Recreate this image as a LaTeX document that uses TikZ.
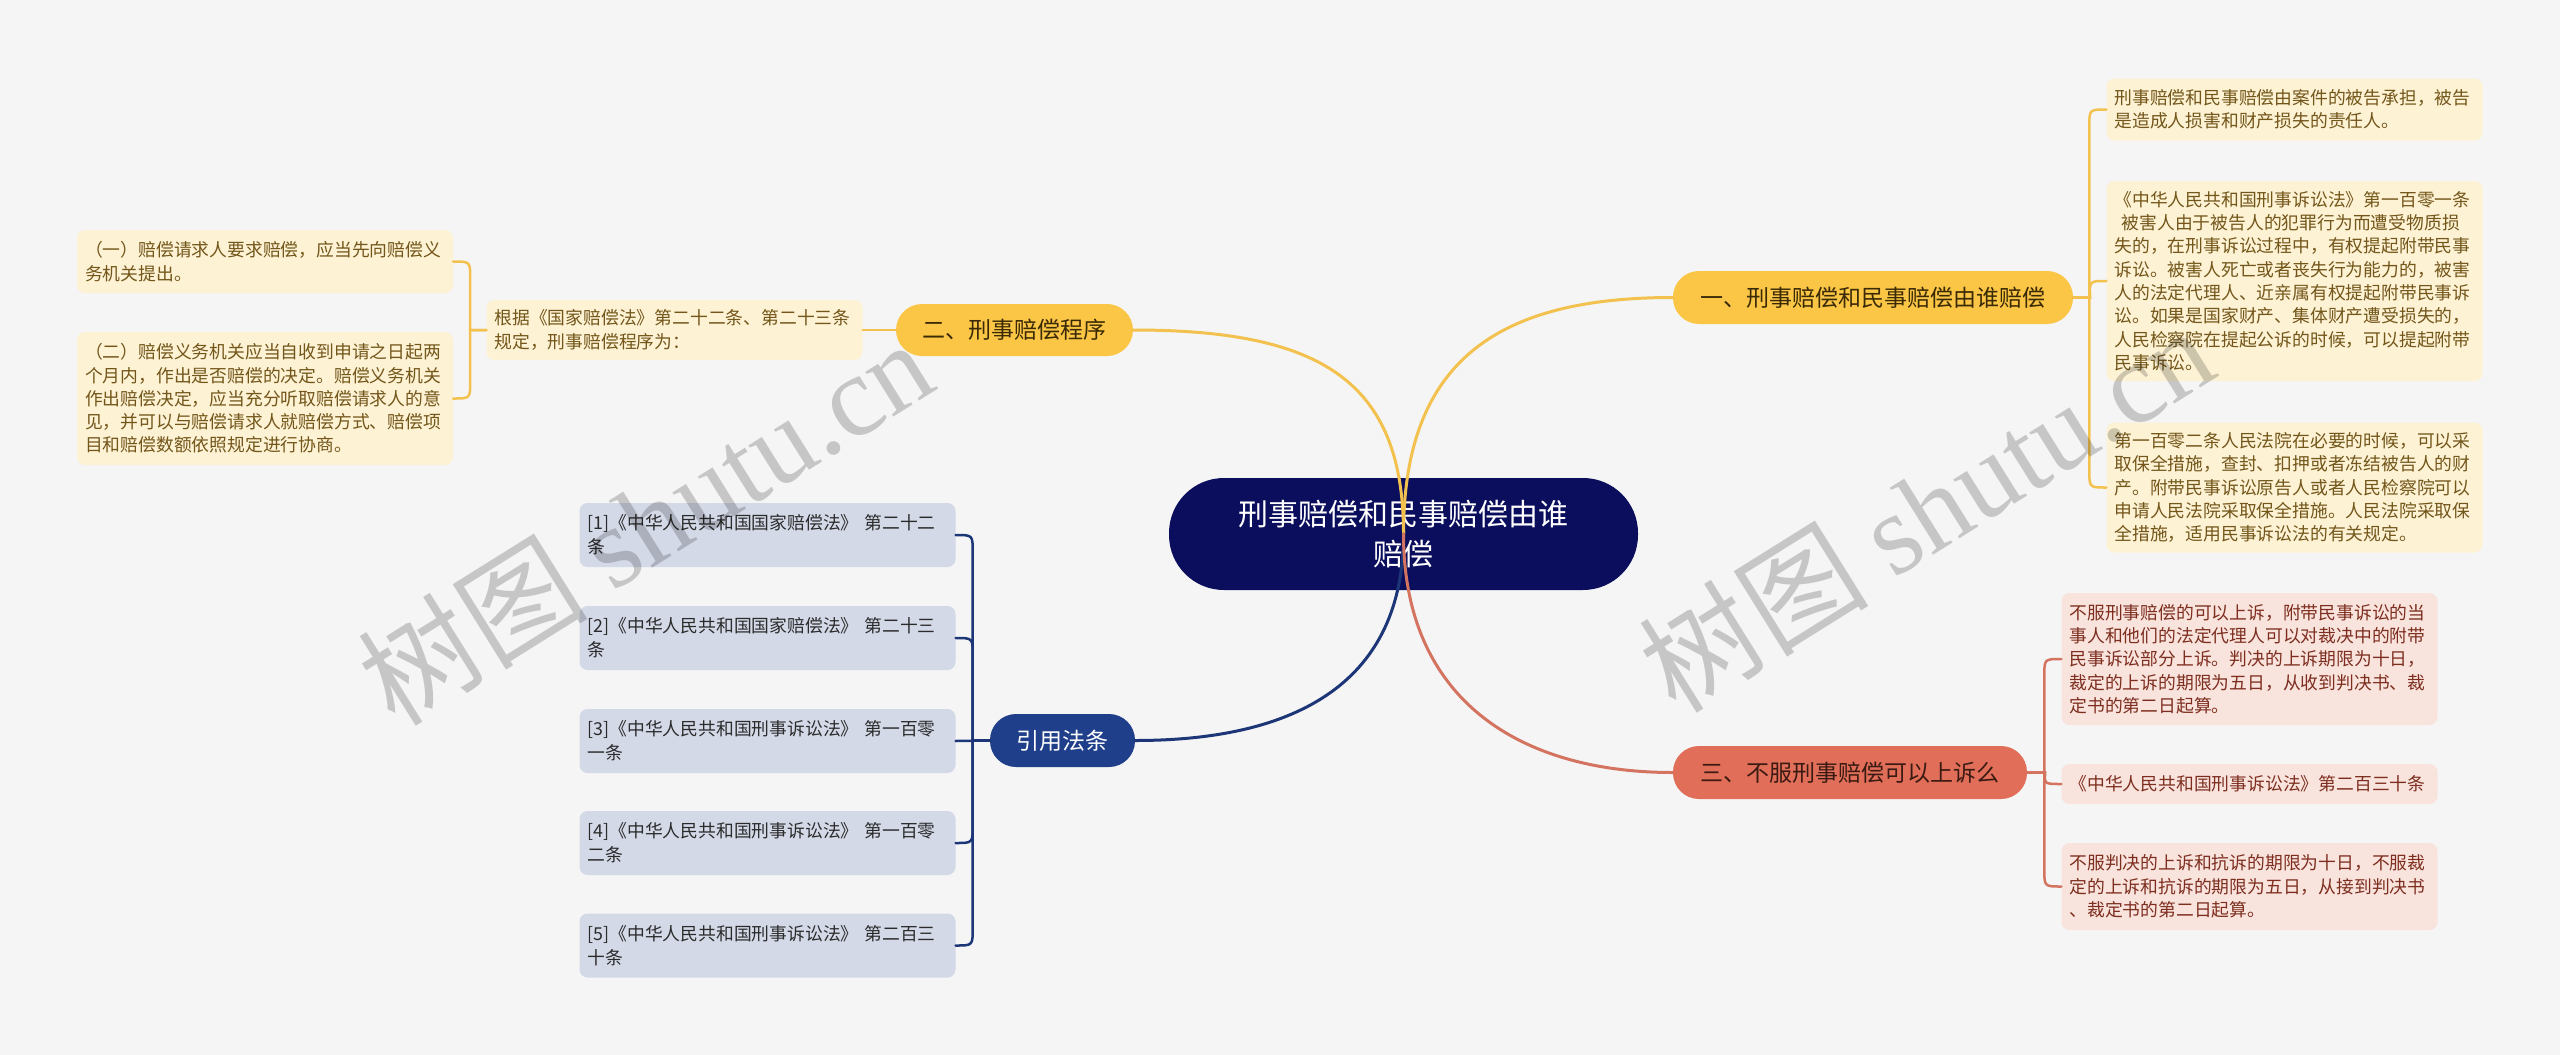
\documentclass[tikz,border=0pt]{standalone}
\usepackage{fontspec}
\setmainfont{Noto Sans CJK SC}
\newfontfamily\wmserif{Liberation Serif}
\usetikzlibrary{calc}
\definecolor{bgc}{HTML}{F5F5F5}
\definecolor{rootc}{HTML}{0A0E5C}
\definecolor{ynodec}{HTML}{FBC646}
\definecolor{ytext}{HTML}{3A2A05}
\definecolor{yleafc}{HTML}{FDF2D4}
\definecolor{yleaft}{HTML}{73561A}
\definecolor{ylinec}{HTML}{F2C14E}
\definecolor{rnodec}{HTML}{E06E58}
\definecolor{rtext}{HTML}{3A1A12}
\definecolor{rleafc}{HTML}{F9E3DD}
\definecolor{rleaft}{HTML}{7D2E1F}
\definecolor{rlinec}{HTML}{D47460}
\definecolor{bnodec}{HTML}{1F3F8A}
\definecolor{bleafc}{HTML}{D4D9E8}
\definecolor{bleaft}{HTML}{2B2B2B}
\definecolor{blinec}{HTML}{1C3677}
\tikzset{
  leafbase/.style={rounded corners=8pt, inner xsep=8pt, inner ysep=0pt, align=left,
    text width=360pt, font=\fontsize{17.8pt}{23.3pt}\selectfont},
  yleaf/.style={leafbase, fill=yleafc, text=yleaft},
  rleaf/.style={leafbase, fill=rleafc, text=rleaft},
  bleaf/.style={leafbase, fill=bleafc, text=bleaft, font=\fontsize{17.8pt}{24pt}\selectfont},
  topic/.style={rounded corners=26pt, inner sep=0pt, align=center, font=\fontsize{23pt}{28pt}\selectfont},
  ytopic/.style={topic, fill=ynodec, text=ytext},
  rtopic/.style={topic, fill=rnodec, text=rtext},
  btopic/.style={topic, fill=bnodec, text=white},
  rootnode/.style={rounded corners=55pt, inner sep=0pt, align=center, fill=rootc, text=white,
    font=\fontsize{30pt}{40pt}\selectfont},
  mainline/.style={line width=3pt, line cap=round},
  brline/.style={line width=2.5pt, line cap=round},
  wm/.style={text=black, text opacity=0.19, font=\fontsize{115pt}{120pt}\selectfont, inner sep=0pt}
}
\begin{document}
\begin{tikzpicture}[x=1pt,y=-1pt]
\fill[bgc] (0,0) rectangle (2560,1055);
\useasboundingbox (0,0) rectangle (2560,1055);

% root and topics
\node[rootnode, minimum width=469pt, minimum height=112pt] (root) at (1403.5,534) {刑事赔偿和民事赔偿由谁\\赔偿};
\node[ytopic, minimum width=400pt, minimum height=53pt] (n1) at (1873,297.5) {一、刑事赔偿和民事赔偿由谁赔偿};
\node[ytopic, minimum width=237pt, minimum height=52pt] (n2) at (1014.5,330) {二、刑事赔偿程序};
\node[rtopic, minimum width=354pt, minimum height=53pt] (n3) at (1850,772.5) {三、不服刑事赔偿可以上诉么};
\node[btopic, minimum width=145pt, minimum height=53pt] (ref) at (1062.5,740.5) {引用法条};

% left (yellow) leaves
\node[yleaf, minimum height=60pt] (M) at (674.5,330) {根据《国家赔偿法》第二十二条、第二十三条\\规定，刑事赔偿程序为：};
\node[yleaf, minimum height=63pt] (L1) at (265,261.5) {（一）赔偿请求人要求赔偿，应当先向赔偿义\\务机关提出。};
\node[yleaf, minimum height=133pt] (L2) at (265,398.5) {（二）赔偿义务机关应当自收到申请之日起两\\个月内，作出是否赔偿的决定。赔偿义务机关\\作出赔偿决定，应当充分听取赔偿请求人的意\\见，并可以与赔偿请求人就赔偿方式、赔偿项\\目和赔偿数额依照规定进行协商。};

% reference leaves
\node[bleaf, minimum height=64pt] (R1) at (767.5,535) {[1]《中华人民共和国国家赔偿法》 第二十二\\条};
\node[bleaf, minimum height=64pt] (R2) at (767.5,638) {[2]《中华人民共和国国家赔偿法》 第二十三\\条};
\node[bleaf, minimum height=64pt] (R3) at (767.5,741) {[3]《中华人民共和国刑事诉讼法》 第一百零\\一条};
\node[bleaf, minimum height=64pt] (R4) at (767.5,843) {[4]《中华人民共和国刑事诉讼法》 第一百零\\二条};
\node[bleaf, minimum height=64pt] (R5) at (767.5,945.5) {[5]《中华人民共和国刑事诉讼法》 第二百三\\十条};

% right yellow leaves
\node[yleaf, minimum height=62pt] (A) at (2294.5,109.5) {刑事赔偿和民事赔偿由案件的被告承担，被告\\是造成人损害和财产损失的责任人。};
\node[yleaf, minimum height=200pt] (B) at (2294.5,281) {《中华人民共和国刑事诉讼法》第一百零一条\\\hspace*{0.4em}被害人由于被告人的犯罪行为而遭受物质损\\失的，在刑事诉讼过程中，有权提起附带民事\\诉讼。被害人死亡或者丧失行为能力的，被害\\人的法定代理人、近亲属有权提起附带民事诉\\讼。如果是国家财产、集体财产遭受损失的，\\人民检察院在提起公诉的时候，可以提起附带\\民事诉讼。};
\node[yleaf, minimum height=130pt] (C) at (2294.5,487.5) {第一百零二条人民法院在必要的时候，可以采\\取保全措施，查封、扣押或者冻结被告人的财\\产。附带民事诉讼原告人或者人民检察院可以\\申请人民法院采取保全措施。人民法院采取保\\全措施，适用民事诉讼法的有关规定。};

% right red leaves
\node[rleaf, minimum height=132pt] (D) at (2249.5,659) {不服刑事赔偿的可以上诉，附带民事诉讼的当\\事人和他们的法定代理人可以对裁决中的附带\\民事诉讼部分上诉。判决的上诉期限为十日，\\裁定的上诉的期限为五日，从收到判决书、裁\\定书的第二日起算。};
\node[rleaf, minimum height=40pt] (E) at (2249.5,784) {《中华人民共和国刑事诉讼法》第二百三十条};
\node[rleaf, minimum height=87pt] (F) at (2249.5,886.5) {不服判决的上诉和抗诉的期限为十日，不服裁\\定的上诉和抗诉的期限为五日，从接到判决书\\、裁定书的第二日起算。};

% main curves
\draw[mainline, ylinec] (root.center) .. controls ($(root.center)+(0,-175)$) and ($(n1.west)+(-173,0)$) .. (n1.west);
\draw[mainline, ylinec] (root.center) .. controls ($(root.center)+(0,-155)$) and ($(n2.east)+(185,0)$) .. (n2.east);
\draw[mainline, blinec] (root.center) .. controls ($(root.center)+(0,146)$) and ($(ref.east)+(165,0)$) .. (ref.east);
\draw[mainline, rlinec] (root.center) .. controls ($(root.center)+(0,166)$) and ($(n3.west)+(-153,0)$) .. (n3.west);

% bracket: topic 2
\draw[brline, ylinec] (n2.west) -- (M.east);
\draw[brline, ylinec] (M.west) -| ($(L1.east)+(17,17)$) .. controls ($(L1.east)+(17,0)$) .. (L1.east);
\draw[brline, ylinec] (M.west) -| ($(L2.east)+(17,-17)$) .. controls ($(L2.east)+(17,0)$) .. (L2.east);

% bracket: references
\draw[brline, blinec] (ref.west) -| ($(R1.east)+(17,17)$) .. controls ($(R1.east)+(17,0)$) .. (R1.east);
\draw[brline, blinec] (ref.west) -| ($(R2.east)+(17,17)$) .. controls ($(R2.east)+(17,0)$) .. (R2.east);
\draw[brline, blinec] (ref.west) -- (R3.east);
\draw[brline, blinec] (ref.west) -| ($(R4.east)+(17,-17)$) .. controls ($(R4.east)+(17,0)$) .. (R4.east);
\draw[brline, blinec] (ref.west) -| ($(R5.east)+(17,-17)$) .. controls ($(R5.east)+(17,0)$) .. (R5.east);

% bracket: topic 1
\draw[brline, ylinec] (n1.east) -| ($(A.west)+(-17,17)$) .. controls ($(A.west)+(-17,0)$) .. (A.west);
\draw[brline, ylinec] (n1.east) -- ++(17,0) .. controls ($(B.west)+(-17,0)$) .. (B.west);
\draw[brline, ylinec] (n1.east) -| ($(C.west)+(-17,-17)$) .. controls ($(C.west)+(-17,0)$) .. (C.west);

% bracket: topic 3
\draw[brline, rlinec] (n3.east) -| ($(D.west)+(-17,17)$) .. controls ($(D.west)+(-17,0)$) .. (D.west);
\draw[brline, rlinec] (n3.east) -- ++(18,0) .. controls ($(E.west)+(-17,0)$) .. (E.west);
\draw[brline, rlinec] (n3.east) -| ($(F.west)+(-17,-17)$) .. controls ($(F.west)+(-17,0)$) .. (F.west);

% watermarks
\node[wm, rotate=32] (wm1) at (645,521) {树图 {\wmserif shutu.cn}};
\node[wm, rotate=32] (wm2) at (1926,508) {树图 {\wmserif shutu.cn}};
\end{tikzpicture}
\end{document}
